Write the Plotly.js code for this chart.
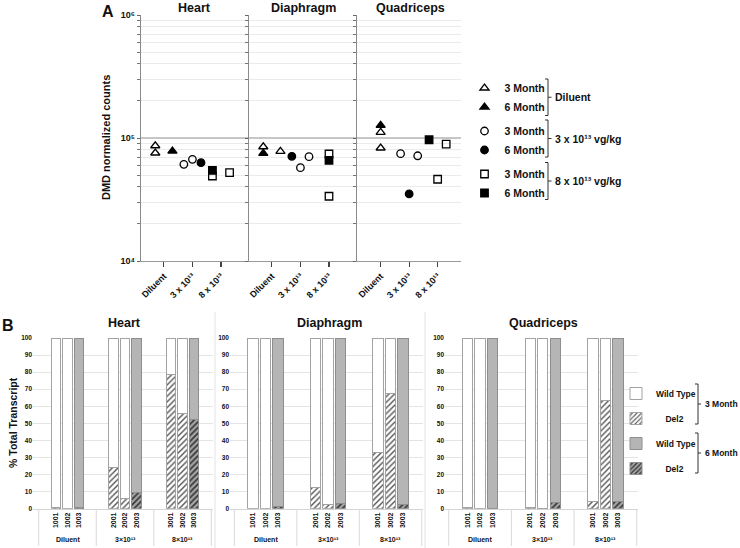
<!DOCTYPE html>
<html><head><meta charset="utf-8">
<script src="https://cdn.plot.ly/plotly-3.0.1.min.js"></script>
<style>html,body{margin:0;padding:0;background:#fff}#chart{width:740px;height:548px}</style>
</head><body><div id="chart"></div>
<script>
// ---------------- Panel A data: DMD normalized counts ----------------
const doseLabels = ['Diluent', '3 x 10\u00b9\u00b3', '8 x 10\u00b9\u00b3'];
const tissues = ['Heart', 'Diaphragm', 'Quadriceps'];

const heartDil3M = [86500, 75500];
const heartDil6M = [78300];
const heart3x3M  = [61100, 67100];
const heart3x6M  = [63000];
const heart8x3M  = [49100, 52300];
const heart8x6M  = [54600];

const diaDil3M = [84900, 77900];
const diaDil6M = [75000];
const dia3x3M  = [57400, 70500];
const dia3x6M  = [71000];
const dia8x3M  = [74100, 33600];
const dia8x6M  = [65900];

const quadDil3M = [111100, 82900];
const quadDil6M = [126800];
const quad3x3M  = [74500, 71700];
const quad3x6M  = [35100];
const quad8x3M  = [46200, 89300];
const quad8x6M  = [96800];

// horizontal jitter of the individual animals inside a dose column (layout only)
const heartJit = [[-0.3,-0.3],[0.3],[-0.3,0],[0.3],[-0.3,0.3],[-0.3]];
const diaJit   = [[-0.3,0.3],[-0.3],[0,0.3],[-0.3],[0,0],[0]];
const quadJit  = [[0,0],[0],[-0.3,0.3],[0],[0,0.3],[-0.3]];

// ---------------- Panel B data: % total transcript ----------------
const samples = ['1001','1002','1003','2001','2002','2003','3001','3002','3003'];
const sampleMonth = [3,3,6,3,3,6,3,3,6];
const groupLabels = ['Diluent', '3×10\u00b9\u00b3', '8×10\u00b9\u00b3'];

const heartDel2 = [0.5, 0, 0.7, 24, 6, 9.5, 78.5, 56, 52];
const heartWT   = [99.5, 100, 99.3, 76, 94, 90.5, 21.5, 44, 48];
const diaDel2   = [0, 0, 1, 12.5, 2.5, 3, 33, 67.5, 2.5];
const diaWT     = [100, 100, 99, 87.5, 97.5, 97, 67, 32.5, 97.5];
const quadDel2  = [0.5, 0, 0, 0.7, 0.3, 3.5, 4.5, 63.5, 4.5];
const quadWT    = [99.5, 100, 100, 99.3, 99.7, 96.5, 95.5, 36.5, 95.5];

// ---------------- helpers ----------------
const W = 740, H = 548;
const FONT = 'Liberation Sans, Arial, sans-serif';
const px = v => v / W;
const py = v => 1 - v / H;
const bold = (size, color) => ({family: FONT, size: size, color: color || '#111', weight: 'bold'});

const traces = [];

// Panel A scatter
const seriesA = [
  [heartDil3M, heartDil6M, heart3x3M, heart3x6M, heart8x3M, heart8x6M],
  [diaDil3M, diaDil6M, dia3x3M, dia3x6M, dia8x3M, dia8x6M],
  [quadDil3M, quadDil6M, quad3x3M, quad3x6M, quad8x3M, quad8x6M]
];
const jitA = [heartJit, diaJit, quadJit];
const symbolBase = ['triangle-up', 'circle', 'square'];
const groupNames = ['dil', 'd3', 'd8'];

for (let t = 0; t < 3; t++) {
  const ax = t === 0 ? '' : String(t + 1);
  for (let s = 0; s < 6; s++) {
    const dose = Math.floor(s / 2);
    const is3M = s % 2 === 0;
    const vals = seriesA[t][s];
    traces.push({
      type: 'scatter', mode: 'markers',
      x: vals.map((v, i) => dose + jitA[t][s][i]),
      y: vals,
      xaxis: 'x' + ax, yaxis: 'y' + ax,
      name: is3M ? '3 Month' : '6 Month',
      legend: 'legend', legendgroup: groupNames[dose],
      showlegend: t === 0,
      marker: {
        symbol: symbolBase[dose] + (is3M ? '-open' : ''),
        size: dose === 0 ? 8 : 7.5, color: '#000',
        line: {color: '#000', width: 1.3}
      },
      hoverinfo: 'skip'
    });
  }
}

// Panel B stacked bars
const barSets = [[heartDel2, heartWT], [diaDel2, diaWT], [quadDel2, quadWT]];
const pos = samples.map((s, k) => Math.floor(k / 3) * 5 + (k % 3));
const styles = {
  wt3:  {color: '#ffffff', line: {color: '#a3a3a3', width: 1}},
  del3: {color: '#ffffff', line: {color: '#a3a3a3', width: 1},
         pattern: {shape: '/', fgcolor: '#555555', bgcolor: '#ffffff', size: 4, solidity: 0.35}},
  wt6:  {color: '#b5b5b5', line: {color: '#8e8e8e', width: 1}},
  del6: {color: '#a5a5a5', line: {color: '#8e8e8e', width: 1},
         pattern: {shape: '/', fgcolor: '#333333', bgcolor: '#a5a5a5', size: 4, solidity: 0.4}}
};
for (let t = 0; t < 3; t++) {
  const ax = String(t + 4);
  const [del, wt] = barSets[t];
  const pick = (arr, m) => arr.filter((v, k) => sampleMonth[k] === m);
  const defs = [
    ['del3', 'Del2', del, 3, 2], ['del6', 'Del2', del, 6, 4],
    ['wt3', 'Wild Type', wt, 3, 1], ['wt6', 'Wild Type', wt, 6, 3]
  ];
  defs.forEach(([key, name, arr, m, rank]) => {
    traces.push({
      type: 'bar', x: pick(pos, m), y: pick(arr, m), width: 0.82,
      xaxis: 'x' + ax, yaxis: 'y' + ax,
      name: name === 'Del2' ? '\u00a0\u00a0\u00a0\u00a0Del2' : name,
      legend: 'legend2', legendgroup: 'b' + rank, legendrank: rank,
      showlegend: t === 0,
      marker: styles[key], hoverinfo: 'skip'
    });
  });
}

// ---------------- axes ----------------
const minorVals = [];
[1e4, 1e5].forEach(d => { for (let k = 2; k <= 9; k++) minorVals.push(d * k); });

const aDomX = [[141, 249], [249, 357], [357, 461]];
const aRange = [[-0.8, 2.98], [-0.8, 2.98], [-0.83, 2.82]];
const layout = {
  width: W, height: H, margin: {l: 0, r: 0, t: 0, b: 0},
  paper_bgcolor: '#fff', plot_bgcolor: 'rgba(0,0,0,0)',
  barmode: 'stack', showlegend: true,
  font: {family: FONT},
  annotations: [], shapes: [],
  legend: {x: px(464.5), y: py(73.5), xanchor: 'left', yanchor: 'top',
           font: bold(10.5), tracegroupgap: 5, traceorder: 'grouped', bgcolor: 'rgba(0,0,0,0)'},
  legend2: {x: px(616), y: py(379), xanchor: 'left', yanchor: 'top',
            font: bold(8.5), tracegroupgap: 6, traceorder: 'grouped', bgcolor: 'rgba(0,0,0,0)'}
};

for (let t = 0; t < 3; t++) {
  const ax = t === 0 ? '' : String(t + 1);
  layout['xaxis' + ax] = {
    domain: [px(aDomX[t][0]), px(aDomX[t][1])], range: aRange[t], anchor: 'y' + ax,
    tickvals: [0, 1, 2], ticktext: doseLabels, tickangle: -45,
    tickfont: bold(9), ticks: 'outside', ticklen: 5, tickcolor: '#444', tickwidth: 1.2,
    showline: true, linecolor: '#9a9a9a', linewidth: 1.3, showgrid: false, zeroline: false, fixedrange: true
  };
  layout['yaxis' + ax] = {
    domain: [py(261), py(15)], type: 'log', range: [4, 6], anchor: 'x' + ax,
    tickvals: [1e4, 1e5, 1e6], ticktext: ['10\u2074', '10\u2075', '10\u2076'],
    showticklabels: t === 0,
    tickfont: bold(9), ticks: 'outside', ticklen: 3, tickcolor: '#666',
    showline: true, linecolor: '#8a8a8a', linewidth: 1.3,
    showgrid: true, gridcolor: '#c6c6c6', gridwidth: 1.2, zeroline: false, fixedrange: true,
    minor: {tickvals: minorVals, ticks: 'outside', ticklen: 3, tickcolor: '#777',
            showgrid: true, gridcolor: '#ebebeb', gridwidth: 1}
  };
}

const bDomX = [[33, 213], [230, 423], [445, 638]];
const bRange = [[-2, 13.65], [-1.85, 13.6], [-1.8, 13.6]];
for (let t = 0; t < 3; t++) {
  const ax = String(t + 4);
  layout['xaxis' + ax] = {
    domain: [px(bDomX[t][0]), px(bDomX[t][1])], range: bRange[t], anchor: 'y' + ax,
    tickvals: pos, ticktext: samples, tickangle: -90, tickfont: bold(7),
    ticks: '', showline: true, linecolor: '#d4d4d4', linewidth: 1, showgrid: false, zeroline: false, fixedrange: true
  };
  layout['yaxis' + ax] = {
    domain: [py(508.7), py(338)], range: [0, 100], anchor: 'x' + ax,
    tickvals: [0,10,20,30,40,50,60,70,80,90,100], tickfont: bold(6.5),
    ticks: '', showline: false, showgrid: true, gridcolor: '#e4e4e4', zeroline: false, fixedrange: true
  };
}

// ---------------- annotations ----------------
const ann = layout.annotations;
const txt = (text, x, y, size, extra) => Object.assign({
  text: text, xref: 'paper', yref: 'paper', x: px(x), y: py(y),
  showarrow: false, font: bold(size), xanchor: 'center', yanchor: 'middle'
}, extra || {});

ann.push(txt('A', 108, 12, 16));
ann.push(txt('B', 8, 325, 16));
[['Heart', 195], ['Diaphragm', 303], ['Quadriceps', 410]].forEach(([s, x]) => ann.push(txt(s, x, 8, 12.5)));
[['Heart', 124], ['Diaphragm', 329], ['Quadriceps', 543]].forEach(([s, x]) => ann.push(txt(s, x, 323, 12.5)));
ann.push(txt('DMD normalized counts', 106, 138, 11, {textangle: -90}));
ann.push(txt('% Total Transcript', 13, 423, 10.5, {textangle: -90}));

// group labels under panel B
for (let t = 0; t < 3; t++) {
  groupLabels.forEach((g, gi) => ann.push({
    text: g, xref: 'x' + (t + 4), yref: 'paper', x: gi * 5 + 1, y: py(539),
    showarrow: false, font: bold(7), xanchor: 'center', yanchor: 'middle'
  }));
}

// legend bracket labels
ann.push(txt('Diluent', 553, 97.3, 10.5, {xanchor: 'left'}));
ann.push(txt('3 x 10\u00b9\u00b3 vg/kg', 553, 138.5, 10.5, {xanchor: 'left'}));
ann.push(txt('8 x 10\u00b9\u00b3 vg/kg', 553, 181.2, 10.5, {xanchor: 'left'}));
ann.push(txt('3 Month', 703, 404, 8.5, {xanchor: 'left'}));
ann.push(txt('6 Month', 703, 453, 8.5, {xanchor: 'left'}));

// ---------------- shapes ----------------
const shp = layout.shapes;
const seg = (x0, y0, x1, y1, color, w) => ({type: 'line', xref: 'paper', yref: 'paper',
  x0: px(x0), x1: px(x1), y0: py(y0), y1: py(y1), line: {color: color, width: w}});
const bracket = (x, y0, y1, hook, dash) => {
  const c = '#333', w = 1;
  shp.push(seg(x - hook, y0, x, y0, c, w), seg(x, y0, x, y1, c, w), seg(x - hook, y1, x, y1, c, w),
           seg(x, (y0 + y1) / 2, x + dash, (y0 + y1) / 2, c, w));
};
bracket(548, 79, 115.5, 3, 3.5);
bracket(548, 120, 157, 3, 3.5);
bracket(548, 162.5, 199.5, 3, 3.5);
bracket(698, 384, 424, 3, 3);
bracket(698, 433, 473, 3, 3);

// category boxes below panel B axes and chart borders
for (let t = 0; t < 3; t++) {
  [-1.5, 3.5, 8.5, 13.5].forEach(v => shp.push({type: 'line', xref: 'x' + (t + 4), yref: 'paper',
    x0: v, x1: v, y0: py(509), y1: py(546), line: {color: '#d9d9d9', width: 1}}));
}
shp.push(seg(215, 312, 215, 548, '#e2e2e2', 1));
shp.push(seg(425, 312, 425, 548, '#e2e2e2', 1));

Plotly.newPlot('chart', traces, layout, {staticPlot: true, displayModeBar: false});
</script></body></html>
